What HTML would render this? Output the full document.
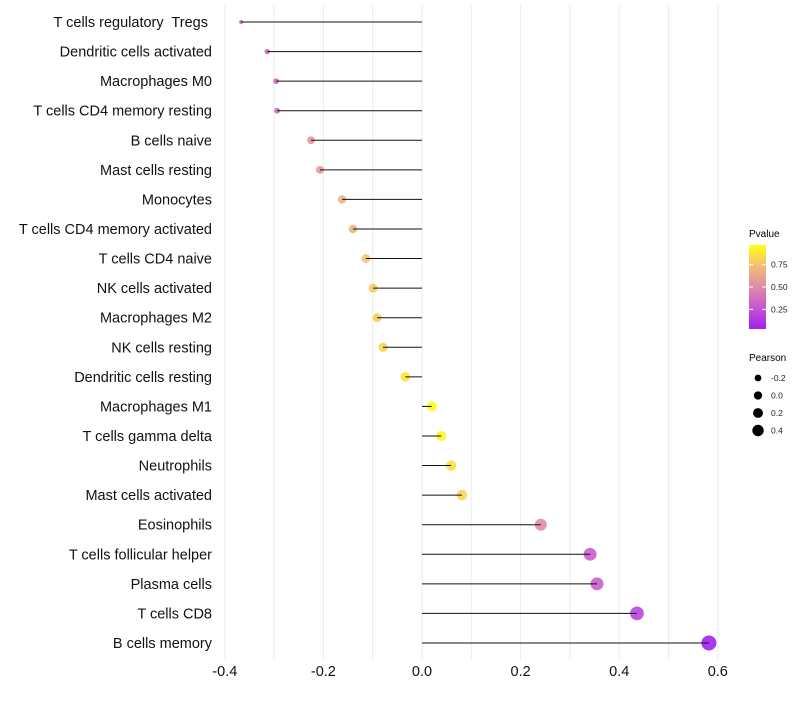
<!DOCTYPE html>
<html><head><meta charset="utf-8"><style>
body{margin:0;background:#fff;font-family:"Liberation Sans",sans-serif}
text{white-space:pre}
</style></head><body>
<svg id="chart" width="800" height="700" xmlns="http://www.w3.org/2000/svg" font-family="Liberation Sans, sans-serif">
<defs><linearGradient id="pg" x1="0" y1="1" x2="0" y2="0">
<stop offset="0" stop-color="#a020f0"/><stop offset="0.25" stop-color="#c655d2"/><stop offset="0.5" stop-color="#e08aa8"/><stop offset="0.75" stop-color="#f4bd74"/><stop offset="1" stop-color="#ffff10"/></linearGradient></defs>
<g id="grid"></g><g id="marks"></g><g id="labels"></g><g id="xaxis"></g>
<g>
<text x="749" y="237" font-size="10">Pvalue</text>
<rect x="749" y="245" width="17" height="84" fill="url(#pg)"/>
<g id="cbticks"></g>
</g>
<g id="sizeleg">
<text x="749" y="361" font-size="10">Pearson</text>
</g>
</svg>
<script>
const categories=["T cells regulatory  Tregs ","Dendritic cells activated","Macrophages M0","T cells CD4 memory resting","B cells naive","Mast cells resting","Monocytes","T cells CD4 memory activated","T cells CD4 naive","NK cells activated","Macrophages M2","NK cells resting","Dendritic cells resting","Macrophages M1","T cells gamma delta","Neutrophils","Mast cells activated","Eosinophils","T cells follicular helper","Plasma cells","T cells CD8","B cells memory"];
const pearson=[-0.367,-0.314,-0.296,-0.294,-0.225,-0.207,-0.162,-0.140,-0.114,-0.099,-0.091,-0.079,-0.034,0.020,0.039,0.059,0.081,0.241,0.341,0.355,0.436,0.582];
const pvalue=[0.35,0.38,0.38,0.38,0.55,0.58,0.68,0.70,0.75,0.78,0.80,0.82,0.88,0.95,0.93,0.86,0.82,0.50,0.30,0.30,0.20,0.04];
const xTicks=[-0.4,-0.2,0.0,0.2,0.4,0.6];
const xTickLabels=["-0.4","-0.2","0.0","0.2","0.4","0.6"];
const cbTicks=[0.25,0.5,0.75];
const cbTickLabels=["0.25","0.50","0.75"];
const sizeLegendVals=[-0.2,0.0,0.2,0.4];
const sizeLegendLabels=["-0.2","0.0","0.2","0.4"];

const NS="http://www.w3.org/2000/svg";
const x=v=>422+v*493;
const y=i=>22+i*29.57;
const r=v=>v>=-0.225?4.9+4.5*v:Math.max(1.5,3.9+13.4*(v+0.225));
const cbY=p=>329-(p-0.03)/(0.97-0.03)*84;
const stops=[[0,[160,32,240]],[0.25,[198,85,210]],[0.5,[224,138,168]],[0.75,[244,189,116]],[1,[255,255,16]]];
function col(p){let t=Math.max(0,Math.min(1,(p-0.03)/0.94));for(let k=1;k<stops.length;k++){if(t<=stops[k][0]){const a=stops[k-1],b=stops[k],f=(t-a[0])/(b[0]-a[0]);return "rgb("+a[1].map((c,j)=>Math.round(c+(b[1][j]-c)*f)).join(",")+")";}}return "rgb(255,255,16)";}
function mk(tag,attrs,parent){const e=document.createElementNS(NS,tag);for(const k in attrs)e.setAttribute(k,attrs[k]);document.getElementById(parent).appendChild(e);return e;}

for(let g=-0.4;g<=0.61;g+=0.1){const gl=mk("line",{x1:x(g),x2:x(g),y1:5,y2:660,stroke:"#ebebeb","stroke-width":1},"grid");

}
categories.forEach((c,i)=>{
 const pt=mk("circle",{cx:x(pearson[i]),cy:y(i),r:r(pearson[i]),fill:col(pvalue[i]),"fill-opacity":0.9},"marks");
 
 
 const ln=mk("line",{x1:x(0),x2:x(pearson[i]),y1:y(i),y2:y(i),stroke:"#111","stroke-width":1},"marks");
 
 
 const t=mk("text",{x:212,y:y(i)+5,"text-anchor":"end","font-size":14.5,fill:"#111"},"labels");
 t.textContent=c;
 
 
});
xTicks.forEach((v,k)=>{const t=mk("text",{x:x(v),y:676,"text-anchor":"middle","font-size":14.5,fill:"#111"},"xaxis");
t.textContent=xTickLabels[k];

});
cbTicks.forEach((v,k)=>{
 const l=mk("line",{x1:749,x2:753,y1:cbY(v),y2:cbY(v),stroke:"#fff","stroke-width":1},"cbticks");
 
 
 const l2=mk("line",{x1:762,x2:766,y1:cbY(v),y2:cbY(v),stroke:"#fff","stroke-width":1},"cbticks");
 
 
 const t=mk("text",{x:771,y:cbY(v)+3,"font-size":8.5,fill:"#222"},"cbticks");
 t.textContent=cbTickLabels[k];
 
 
});
sizeLegendVals.forEach((v,k)=>{
 const cy=378+k*17.5;
 const c=mk("circle",{cx:758,cy:cy,r:r(v)*0.85,fill:"#000"},"sizeleg");
 
 
 const t=mk("text",{x:771,y:cy+3,"font-size":8.5,fill:"#222"},"sizeleg");
 t.textContent=sizeLegendLabels[k];
 
 
});
</script>
</body></html>
